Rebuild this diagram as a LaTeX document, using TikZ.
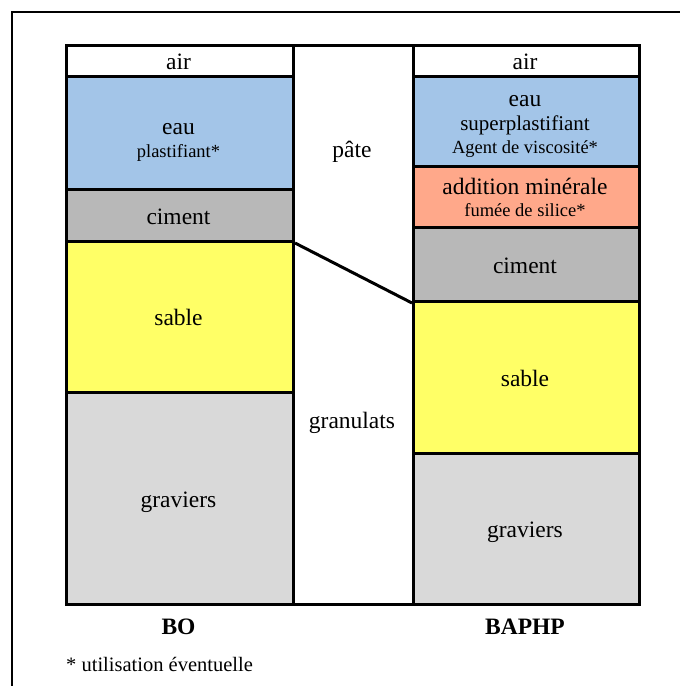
\documentclass[tikz,border=0pt]{standalone}
\usepackage{fontspec}
\setmainfont{Liberation Serif}
\definecolor{eaucol}{RGB}{163,197,232}
\definecolor{cimcol}{RGB}{184,184,184}
\definecolor{sabcol}{RGB}{255,255,102}
\definecolor{gracol}{RGB}{217,217,217}
\definecolor{addcol}{RGB}{255,168,138}
\newcommand{\szmain}{\fontsize{23.5}{26}\selectfont}
\newcommand{\szmid}{\fontsize{21}{24}\selectfont}
\newcommand{\szsmall}{\fontsize{18.5}{21}\selectfont}
\newcommand{\sznote}{\fontsize{20.5}{23}\selectfont}
\begin{document}
\begin{tikzpicture}[x=1pt,y=-1pt]
\tikzset{
  cell/.style={draw=black, line width=3pt, inner sep=0pt, anchor=north west},
  lcell/.style={cell, minimum width=227pt},
  rcell/.style={cell, minimum width=226pt},
  lbl/.style={anchor=base, inner sep=0pt, font=\szmain},
  sublbl/.style={anchor=base, inner sep=0pt, font=\szsmall},
  midlbl/.style={anchor=base, inner sep=0pt, font=\szmid},
  title/.style={anchor=base, inner sep=0pt, font=\szmain\bfseries},
}
\useasboundingbox (0,0) rectangle (680,686);
% outer frame
\coordinate (fbl) at (12,686);
\coordinate (ftl) at (12,12);
\coordinate (ftr) at (680,12);
\draw[line width=2pt] (fbl) -- (ftl) -- (ftr);
% middle column
\node[cell, minimum width=120pt, minimum height=559pt] (mid) at (292,44) {};
% left column (BO)
\node[lcell, minimum height=31pt] (Lair) at (65,44) {};
\node[lcell, fill=eaucol, minimum height=113pt] (Leau) at (65,75) {};
\node[lcell, fill=cimcol, minimum height=52pt] (Lcim) at (65,188) {};
\node[lcell, fill=sabcol, minimum height=151pt] (Lsab) at (65,240) {};
\node[lcell, fill=gracol, minimum height=212pt] (Lgra) at (65,391) {};
% right column (BAPHP)
\node[rcell, minimum height=31pt] (Rair) at (412,44) {};
\node[rcell, fill=eaucol, minimum height=90pt] (Reau) at (412,75) {};
\node[rcell, fill=addcol, minimum height=61pt] (Radd) at (412,165) {};
\node[rcell, fill=cimcol, minimum height=74pt] (Rcim) at (412,226) {};
\node[rcell, fill=sabcol, minimum height=152pt] (Rsab) at (412,300) {};
\node[rcell, fill=gracol, minimum height=151pt] (Rgra) at (412,452) {};
% connector
\draw[line width=3pt] (Lcim.south east) -- (Rcim.south west);
% left labels
\node[lbl] (tLair) at (178.5,69) {air};
\node[lbl] (tLeau) at (178.5,134) {eau};
\node[sublbl] (tLpla) at (178.5,157) {plastifiant*};
\node[lbl] (tLcim) at (178.5,224) {ciment};
\node[lbl] (tLsab) at (178.5,325) {sable};
\node[lbl] (tLgra) at (178.5,507) {graviers};
% right labels
\node[lbl] (tRair) at (525,69) {air};
\node[lbl] (tReau) at (525,106) {eau};
\node[midlbl] (tRsup) at (525,130) {superplastifiant};
\node[sublbl] (tRage) at (525,153) {Agent de viscosité*};
\node[lbl] (tRadd) at (525,194) {addition minérale};
\node[sublbl] (tRfum) at (525,216) {fumée de silice*};
\node[lbl] (tRcim) at (525,273) {ciment};
\node[lbl] (tRsab) at (525,386) {sable};
\node[lbl] (tRgra) at (525,537) {graviers};
% middle labels
\node[lbl] (tpate) at (352,157) {pâte};
\node[lbl] (tgran) at (352,428) {granulats};
% titles
\node[title] (tBO) at (178.5,634) {BO};
\node[title] (tBAPHP) at (525,634) {BAPHP};
\node[anchor=base west, inner sep=0pt, font=\sznote] (note) at (66,671) {* utilisation éventuelle};
\end{tikzpicture}
\end{document}
